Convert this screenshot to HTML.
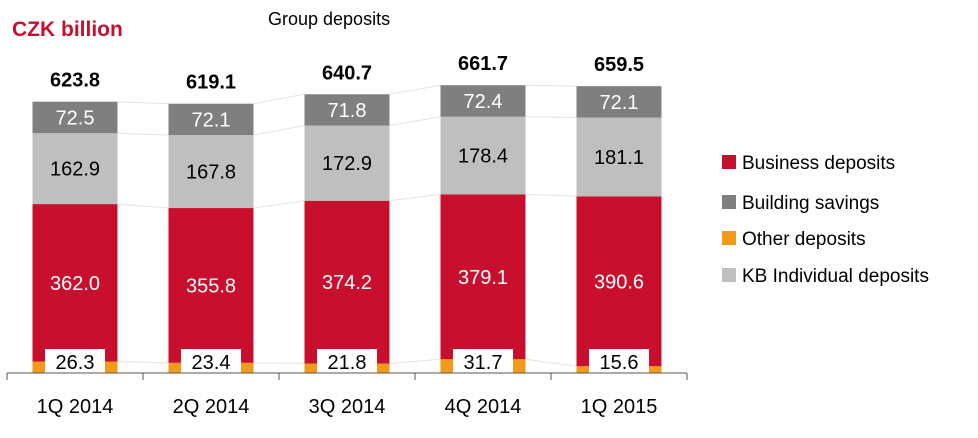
<!DOCTYPE html>
<html><head><meta charset="utf-8"><style>
body{margin:0;background:#fff;}
svg text{font-family:"Liberation Sans",Arial,sans-serif;}
</style></head><body>
<svg width="978" height="433" viewBox="0 0 978 433">
<text x="12" y="36" font-size="21" font-weight="bold" fill="#C8102E">CZK billion</text>
<text x="268" y="25" font-size="18" fill="#000">Group deposits</text>
<g id="plot"></g>
<g id="legend"></g>
</svg>
<script>
const categories=["1Q 2014","2Q 2014","3Q 2014","4Q 2014","1Q 2015"];
const other=[26.3,23.4,21.8,31.7,15.6];
const business=[362.0,355.8,374.2,379.1,390.6];
const individual=[162.9,167.8,172.9,178.4,181.1];
const building=[72.5,72.1,71.8,72.4,72.1];
const totals=["623.8","619.1","640.7","661.7","659.5"];
const NS="http://www.w3.org/2000/svg";
const plot=document.getElementById('plot');
const baseY=373,scale=0.435,x0=7,step=136,bw=85;
function y(v){return baseY-v*scale;}
function xc(i){return x0+step*i+step/2;}
function mk(tag,attrs,parent){const e=document.createElementNS(NS,tag);for(const k in attrs)e.setAttribute(k,attrs[k]);(parent||plot).appendChild(e);return e;}
const series=[
 {name:"other",vals:other,color:"#F39A1B",tc:"#000"},
 {name:"business",vals:business,color:"#C8102E",tc:"#fff"},
 {name:"individual",vals:individual,color:"#BFBFBF",tc:"#000"},
 {name:"building",vals:building,color:"#7F7F7F",tc:"#fff"}];
for(let i=0;i<categories.length-1;i++){
 let c1=0,c2=0;
 series.forEach(s=>{c1+=s.vals[i];c2+=s.vals[i+1];
  const l=mk('line',{x1:xc(i)+bw/2,y1:y(c1),x2:xc(i+1)-bw/2,y2:y(c2),stroke:"#E4E4E4","stroke-width":1});
  
  });
}
categories.forEach((c,i)=>{
 let cum=0;
 series.forEach(s=>{
  const v=s.vals[i];const top=y(cum+v),bot=y(cum);
  const r=mk('rect',{x:xc(i)-bw/2,y:top,width:bw,height:bot-top,fill:s.color});
  
  
  if(s.name!=="other"){
   const t=mk('text',{x:xc(i),y:(top+bot)/2+7,"font-size":20,"text-anchor":"middle",fill:s.tc});
   t.textContent=v.toFixed(1);
   
   
  }
  cum+=v;
 });
 const b=mk('rect',{x:xc(i)-30,y:baseY-24,width:60,height:24,fill:"#fff"});
 
 
 const ot=mk('text',{x:xc(i),y:baseY-4,"font-size":20,"text-anchor":"middle",fill:"#000"});
 ot.textContent=other[i].toFixed(1);
 
 
 const tt=mk('text',{x:xc(i),y:y(cum)-15,"font-size":20,"font-weight":"bold","text-anchor":"middle",fill:"#000"});
 tt.textContent=totals[i];
 
 
 const xl=mk('text',{x:xc(i),y:413,"font-size":20,"text-anchor":"middle",fill:"#000"});
 xl.textContent=c;
 
 
});
const ax=mk('line',{x1:x0,y1:baseY,x2:x0+step*categories.length,y2:baseY,stroke:"#555","stroke-width":1});


for(let i=0;i<=categories.length;i++){
 const tk=mk('line',{x1:x0+step*i,y1:baseY,x2:x0+step*i,y2:baseY+7,stroke:"#555","stroke-width":1});
 
 
}
const leg=document.getElementById('legend');
const legItems=[["Business deposits","#C8102E",163],["Building savings","#7F7F7F",203],["Other deposits","#F39A1B",239],["KB Individual deposits","#BFBFBF",276]];
legItems.forEach(l=>{
 const g=mk('g',{},leg);
 
 
 mk('rect',{x:722,y:l[2]-8,width:14,height:14,fill:l[1]},g);
 const t=mk('text',{x:742,y:l[2]+6,"font-size":19,fill:"#000"},g);
 t.textContent=l[0];
});
</script>
</body></html>
